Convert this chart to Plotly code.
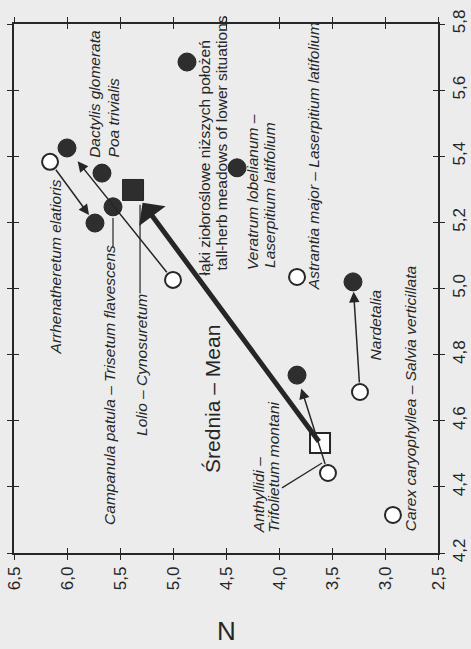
import plotly.graph_objects as go

# ---------------- data ----------------
# N (x) and second indicator (y) values
filled_N = [4.868, 6.00, 5.67, 5.566, 5.736, 4.396, 3.83, 3.302]
filled_Y = [5.685, 5.425, 5.349, 5.247, 5.198, 5.365, 4.738, 5.02]

open_N = [6.16, 5.00, 3.83, 3.236, 3.538, 2.925]
open_Y = [5.383, 5.026, 5.035, 4.687, 4.442, 4.315]

mean_open_N, mean_open_Y = [3.613], [4.533]
mean_filled_N, mean_filled_Y = [5.377], [5.298]

# arrows: (tail N, tail Y, head N, head Y)
arrow_tail_N = [6.16, 5.00, 3.538, 3.236]
arrow_tail_Y = [5.383, 5.026, 4.442, 4.687]
arrow_head_N = [5.736, 6.00, 3.83, 3.302]
arrow_head_Y = [5.198, 5.425, 4.738, 5.02]

# leader lines
leader_N = [[3.972, 3.594], [5.566, 5.566], [5.311, 5.311]]
leader_Y = [[4.397, 4.472], [5.125, 5.213], [4.985, 5.253]]

x_ticks = [6.5, 6.0, 5.5, 5.0, 4.5, 4.0, 3.5, 3.0, 2.5]
x_ticktext = ["6,5", "6,0", "5,5", "5,0", "4,5", "4,0", "3,5", "3,0", "2,5"]
y_ticks = [4.2, 4.4, 4.6, 4.8, 5.0, 5.2, 5.4, 5.6, 5.8]
y_ticktext = ["4,2", "4,4", "4,6", "4,8", "5,0", "5,2", "5,4", "5,6", "5,8"]

labels = [
    ("Arrhenatheretum elatioris", 6.113, 4.793, True),
    ("Campanula patula – Trisetum flavescens", 5.594, 4.279, True),
    ("Lolio – Cynosuretum", 5.292, 4.548, True),
    ("Dactylis glomerata", 5.736, 5.389, True),
    ("Poa trivialis", 5.566, 5.389, True),
    ("łąki ziołoroślowe niższych położeń", 4.708, 5.035, False),
    ("tall-herb meadows of lower situations", 4.547, 5.047, False),
    ("Veratrum lobelianum –", 4.245, 5.05, True),
    ("Laserpitium latifolium", 4.085, 5.056, True),
    ("Astrantia major – Laserpitium latifolium", 3.679, 4.989, True),
    ("Nardetalia", 3.094, 4.775, True),
    ("Carex caryophyllea – Salvia verticillata", 2.764, 4.26, True),
    ("Anthyllidi –", 4.198, 4.254, True),
    ("Trifolietum montani", 4.047, 4.254, True),
]

INK = "#262626"
BG = "#ececec"
FONT = "Liberation Sans, Arial, sans-serif"

fig = go.Figure()

for lx, ly in zip(leader_N, leader_Y):
    fig.add_trace(go.Scatter(x=lx, y=ly, mode="lines",
                             line=dict(color=INK, width=1.2),
                             hoverinfo="skip", showlegend=False))

fig.add_trace(go.Scatter(x=open_N, y=open_Y, mode="markers",
                         marker=dict(symbol="circle", size=16, color="white",
                                     line=dict(color=INK, width=2)),
                         showlegend=False))
fig.add_trace(go.Scatter(x=mean_open_N, y=mean_open_Y, mode="markers",
                         marker=dict(symbol="square", size=20, color="white",
                                     line=dict(color=INK, width=2)),
                         showlegend=False))
fig.add_trace(go.Scatter(x=filled_N, y=filled_Y, mode="markers",
                         marker=dict(symbol="circle", size=18, color="#2e2e2e",
                                     line=dict(color=INK, width=1)),
                         showlegend=False))
fig.add_trace(go.Scatter(x=mean_filled_N, y=mean_filled_Y, mode="markers",
                         marker=dict(symbol="square", size=21, color="#2e2e2e",
                                     line=dict(color=INK, width=1)),
                         showlegend=False))
# invisible trace to activate overlay axes (inside tick marks)
fig.add_trace(go.Scatter(x=[x_ticks[0]], y=[y_ticks[0]], xaxis="x2", yaxis="y2",
                         mode="markers", marker=dict(opacity=0),
                         hoverinfo="skip", showlegend=False))

ann = []
# thin arrows
for tn, ty, hn, hy, so in zip(arrow_tail_N, arrow_tail_Y, arrow_head_N, arrow_head_Y,
                              [10, 17, 14, 10]):
    ann.append(dict(x=hn, y=hy, ax=tn, ay=ty, xref="x", yref="y", axref="x", ayref="y",
                    text="", showarrow=True, arrowhead=2, arrowsize=1.4,
                    arrowwidth=1.5, arrowcolor=INK, standoff=so, startstandoff=8))
# thick mean arrow
ann.append(dict(x=mean_filled_N[0], y=mean_filled_Y[0], ax=mean_open_N[0], ay=mean_open_Y[0],
                xref="x", yref="y", axref="x", ayref="y", text="", showarrow=True,
                arrowhead=1, arrowsize=1.1, arrowwidth=5, arrowcolor=INK, standoff=16))

for txt, xn, yn, ital in labels:
    ann.append(dict(x=xn, y=yn, xref="x", yref="y", text=txt, showarrow=False,
                    textangle=-90, xanchor="center", yanchor="bottom",
                    font=dict(family=FONT, size=15.5, color=INK,
                              style="italic" if ital else "normal")))
ann.append(dict(x=4.623, y=4.436, xref="x", yref="y", text="Średnia – Mean",
                showarrow=False, textangle=-90, xanchor="center", yanchor="bottom",
                font=dict(family=FONT, size=21, color=INK)))
ann.append(dict(x=4.5, y=0, xref="x", yref="paper", yshift=-78, text="N",
                showarrow=False, xanchor="center", yanchor="middle",
                font=dict(family=FONT, size=26, color=INK)))

axis_common = dict(showgrid=False, zeroline=False, automargin=False,
                   tickcolor=INK, tickwidth=1.3, ticklen=5)

fig.update_layout(
    width=471, height=649,
    margin=dict(l=14, r=33, t=24, b=96),
    paper_bgcolor=BG, plot_bgcolor=BG,
    font=dict(family=FONT, color=INK),
    annotations=ann,
    xaxis=dict(range=[6.5, 2.5], tickvals=x_ticks, ticktext=x_ticktext, tickangle=-90,
               ticks="outside", showline=True, mirror="ticks", linecolor=INK, linewidth=1.5,
               tickfont=dict(size=17, family=FONT, color=INK), **axis_common),
    yaxis=dict(range=[4.2, 5.8], tickvals=y_ticks, ticktext=y_ticktext, tickangle=-90,
               side="right", ticks="outside", showline=True, mirror="ticks",
               linecolor=INK, linewidth=1.5,
               tickfont=dict(size=17, family=FONT, color=INK), **axis_common),
    xaxis2=dict(overlaying="x", matches="x", range=[6.5, 2.5], tickvals=x_ticks,
                ticks="inside", showline=False, mirror="ticks", showticklabels=False,
                anchor="y2", **axis_common),
    yaxis2=dict(overlaying="y", matches="y", range=[4.2, 5.8], tickvals=y_ticks,
                side="right", ticks="inside", showline=False, mirror="ticks",
                showticklabels=False, anchor="x2", **axis_common),
)

fig.write_html("out.html", config={"displayModeBar": False},
               post_script="document.body.style.margin='0';document.body.style.background='%s';" % BG)
